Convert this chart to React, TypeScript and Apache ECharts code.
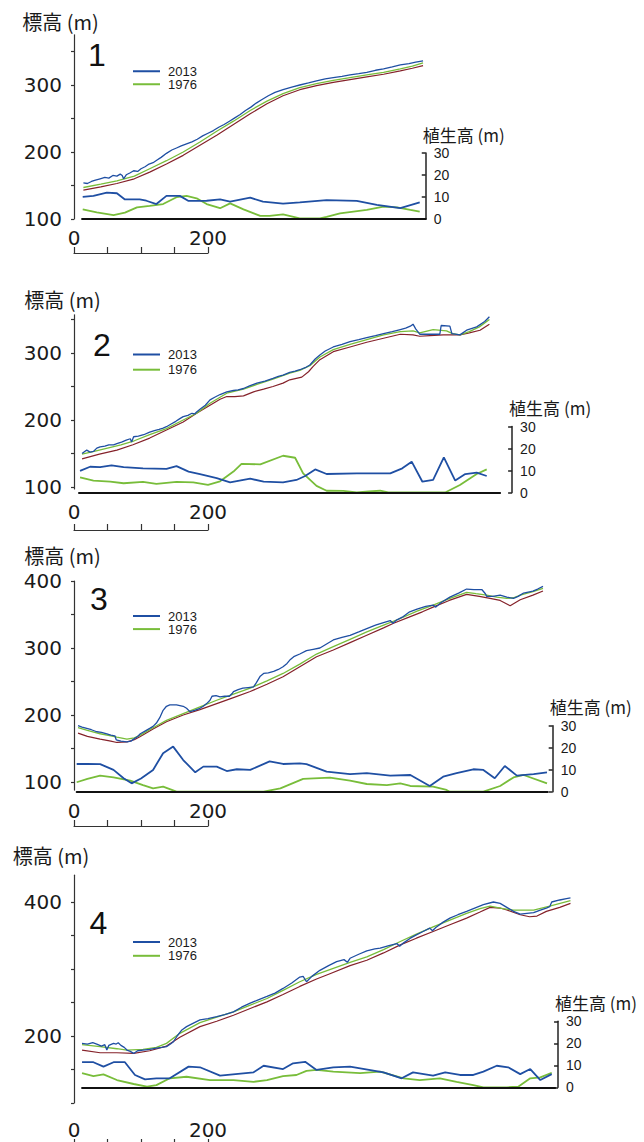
import React, { useEffect, useRef } from 'react';
import * as echarts from 'echarts';

// ---------- texts ----------
const YEAR_NEW = '2013';
const YEAR_OLD = '1976';
const GROUND_NAME = '地表面';
const ELEV_NAME = '標高 (m)';
const VEG_NAME = '植生高 (m)';
const PANEL_LABELS = ['1', '2', '3', '4'];

// ---------- tick labels ----------
const SCALE_TICKS = [0, 50, 100, 150, 200];
const SCALE_LABELS = [0, 200];
const ELEV_TICKS_1 = [100, 150, 200, 250, 300, 350];
const ELEV_LABELS_1 = [100, 200, 300];
const ELEV_TICKS_2 = [100, 150, 200, 250, 300, 350];
const ELEV_LABELS_2 = [100, 200, 300];
const ELEV_TICKS_3 = [100, 150, 200, 250, 300, 350, 400];
const ELEV_LABELS_3 = [100, 200, 300, 400];
const ELEV_TICKS_4 = [100, 150, 200, 250, 300, 350, 400];
const ELEV_LABELS_4 = [200, 400];

// ---------- panel 1 (distance m, value m) ----------
const P1_DSM_2013 = [[14,154],[20,153],[26,156],[32,158],[39,160],[46,162],[52,161],[58,165],[64,164],[69,167],[72,165],[74,160],[78,166],[84,169],[89,172],[95,171],[100,175],[106,178],[112,182],[118,184],[124,188],[130,192],[138,198],[146,203],[153,206],[160,209],[168,212],[176,215],[184,219],[192,224],[200,228],[208,232],[216,237],[224,241],[232,246],[240,251],[248,256],[256,262],[264,267],[272,273],[280,278],[290,284],[300,289],[312,293],[325,297],[337,300],[350,303],[362,306],[375,309],[387,311],[400,313],[412,315],[425,317],[437,319],[450,322],[462,324],[475,327],[487,330],[500,332],[510,334],[521,336]];
const P1_DSM_1976 = [[14,147],[40,152],[64,157],[90,164],[113,175],[138,187],[163,200],[188,215],[213,231],[238,246],[263,262],[288,276],[312,287],[337,296],[362,302],[387,307],[412,311],[437,315],[462,319],[487,324],[505,328],[521,333]];
const P1_GROUND = [[14,143],[40,148],[64,153],[90,160],[113,170],[138,182],[163,195],[188,210],[213,225],[238,241],[263,257],[288,272],[312,284],[337,293],[362,299],[387,304],[412,308],[437,312],[462,316],[487,321],[505,325],[521,329]];
const P1_VEG_2013 = [[13,10.1],[29,10.5],[49,12],[64,11.7],[76,8.9],[98,8.9],[108,8.3],[123,6.8],[138,10.5],[158,10.5],[171,8.2],[198,8.3],[218,8.9],[233,7.9],[263,9.7],[282,7.9],[312,7],[337,7.6],[377,8.6],[422,8.2],[452,6.4],[487,4.9],[516,7.6]];
const P1_VEG_1976 = [[13,4.4],[34,3],[59,1.8],[76,2.9],[94,5.3],[113,6],[133,6.8],[153,9.9],[168,10.5],[183,9.4],[198,6.8],[218,4.9],[233,7.1],[253,4.4],[278,1.4],[292,1.4],[312,2.1],[337,0.3],[367,0.3],[377,1],[397,2.6],[437,4.1],[462,5.6],[482,5.3],[502,4.1],[516,3.3]];

// ---------- panel 2 ----------
const P2_DSM_2013 = [[12,150],[16,153],[19,155],[24,152],[29,153],[34,158],[39,160],[46,161],[52,163],[59,163],[65,165],[71,167],[78,170],[84,172],[86,167],[89,175],[96,176],[104,178],[113,182],[120,184],[127,186],[133,188],[138,190],[145,194],[152,198],[158,202],[163,205],[170,207],[176,210],[180,209],[183,212],[188,216],[196,222],[203,230],[210,234],[218,238],[228,242],[238,244],[245,245],[253,247],[262,251],[273,255],[285,258],[297,262],[305,265],[312,267],[322,271],[330,273],[337,275],[345,278],[352,282],[360,291],[367,297],[375,303],[387,309],[400,313],[412,317],[425,320],[437,323],[450,326],[462,329],[475,332],[487,335],[495,337],[502,340],[506,343],[510,336],[516,328],[530,328],[546,328],[548,341],[561,340],[564,329],[576,327],[586,334],[601,339],[613,347],[620,354]];
const P2_DSM_1976 = [[12,149],[30,153],[50,158],[70,163],[90,169],[113,178],[138,187],[163,200],[183,210],[203,225],[228,240],[253,246],[273,253],[297,261],[322,270],[337,274],[352,281],[367,294],[387,305],[412,313],[437,320],[462,327],[487,332],[506,333],[516,330],[536,335],[556,333],[565,329],[576,327],[590,332],[605,339],[620,350]];
const P2_GROUND = [[12,142],[38,149],[64,155],[88,163],[113,173],[138,185],[163,197],[183,210],[203,222],[218,231],[228,235],[240,235],[253,236],[268,242],[283,246],[297,250],[312,255],[322,260],[340,264],[350,272],[357,280],[367,290],[387,302],[412,309],[437,316],[462,322],[487,328],[506,327],[516,325],[531,326],[551,327],[576,327],[590,330],[606,334],[620,343]];
const P2_VEG_2013 = [[9,9.8],[24,11.7],[39,11.5],[56,12.3],[74,11.5],[103,11],[138,10.7],[153,12],[171,9.5],[188,8.3],[213,6.5],[233,4.6],[263,6.3],[283,4.9],[312,4.6],[332,5.7],[345,7.5],[360,10.5],[377,8.4],[422,8.7],[472,8.7],[490,11],[504,14],[520,4.9],[536,5.7],[552,16],[569,5.4],[584,8.4],[601,9],[616,7.5]];
const P2_VEG_1976 = [[9,6.9],[29,5.4],[54,4.9],[74,4.2],[103,4.8],[123,3.9],[153,4.8],[178,4.6],[200,3.5],[218,5.1],[238,9.5],[250,13],[278,12.8],[312,16.7],[330,15.8],[342,8.7],[362,3],[377,0.8],[402,0.7],[422,0],[440,0.5],[457,0.8],[469,0],[554,0],[576,3.4],[601,8.4],[616,10.5]];

// ---------- panel 3 ----------
const P3_DSM_2013 = [[6,184],[12,182],[19,180],[26,178],[34,175],[41,174],[49,172],[55,170],[61,169],[63,163],[70,161],[79,160],[85,161],[89,164],[95,168],[99,172],[106,176],[113,180],[118,183],[123,188],[128,196],[133,207],[138,213],[143,215],[153,215],[163,213],[168,210],[173,205],[180,207],[188,210],[193,213],[198,217],[203,222],[206,228],[212,229],[218,227],[225,228],[232,228],[236,232],[238,235],[245,238],[252,240],[260,241],[268,242],[272,248],[278,258],[283,262],[290,263],[298,265],[305,268],[312,272],[318,277],[323,283],[328,287],[337,291],[347,296],[357,298],[367,300],[377,306],[387,312],[400,316],[412,319],[425,324],[437,329],[450,334],[462,338],[472,341],[476,337],[482,342],[490,346],[501,354],[512,358],[525,362],[536,364],[540,361],[548,368],[561,376],[574,382],[586,388],[597,387],[609,387],[614,381],[616,377],[625,377],[636,379],[646,376],[656,374],[663,377],[671,382],[685,385],[692,388],[700,392]];
const P3_DSM_1976 = [[6,181],[20,177],[39,172],[55,169],[64,167],[79,164],[90,166],[99,170],[118,181],[138,192],[163,202],[188,212],[213,222],[238,231],[263,240],[288,251],[312,262],[337,276],[362,291],[387,302],[412,313],[437,324],[462,334],[487,344],[512,355],[536,364],[561,374],[586,383],[600,381],[616,379],[631,376],[646,374],[656,375],[666,379],[685,384],[700,389]];
const P3_GROUND = [[6,173],[20,168],[39,164],[55,161],[64,159],[79,160],[90,163],[99,168],[118,179],[138,190],[163,200],[188,208],[213,217],[238,226],[263,235],[288,246],[312,257],[337,272],[362,287],[387,297],[412,308],[437,319],[462,330],[477,337],[500,346],[520,354],[536,361],[560,371],[586,380],[605,377],[621,374],[636,371],[651,363],[666,372],[685,379],[700,385]];
const P3_VEG_2013 = [[4,12.6],[20,12.6],[39,12.5],[59,9.9],[74,6.1],[86,3.8],[100,6],[118,9.9],[133,17.5],[148,20.5],[163,14.4],[181,8.8],[193,11.4],[213,11.4],[228,9.4],[243,10.2],[263,9.9],[292,13.8],[312,12.6],[337,12.9],[347,12.5],[377,9.1],[412,8],[437,8.4],[472,7.3],[502,7.6],[531,2.6],[551,6.8],[571,8.4],[596,10.2],[611,9.9],[628,6.1],[643,11.7],[661,7.3],[686,8],[706,8.8]];
const P3_VEG_1976 = [[4,4.3],[20,5.8],[39,7.3],[59,6.5],[84,5],[103,3],[118,1.5],[133,2.3],[153,0],[283,0],[308,1.5],[342,5.8],[382,6.4],[412,5],[437,3.5],[467,3],[487,3.8],[502,2.6],[536,2.3],[556,0.8],[561,0],[611,0],[636,2.6],[656,6.5],[671,7.6],[706,3.8]];

// ---------- panel 4 ----------
const P4_DSM_2013 = [[12,189],[20,188],[28,190],[34,188],[41,185],[46,187],[49,179],[52,186],[59,189],[63,188],[66,190],[70,186],[75,183],[79,179],[84,177],[89,174],[95,178],[103,179],[113,180],[123,182],[131,183],[138,184],[144,188],[148,191],[154,200],[161,209],[168,214],[176,218],[188,224],[200,226],[213,229],[225,232],[238,236],[250,243],[263,249],[275,254],[288,259],[300,264],[312,271],[325,279],[337,288],[342,289],[347,281],[355,289],[367,298],[380,305],[392,311],[403,314],[408,310],[412,316],[425,322],[437,327],[449,330],[457,331],[470,335],[482,338],[486,334],[492,339],[502,346],[511,351],[521,356],[531,361],[535,357],[540,362],[551,370],[561,376],[573,381],[586,386],[598,391],[611,396],[626,400],[636,398],[646,392],[656,386],[666,382],[676,383],[686,384],[696,388],[705,391],[710,393],[713,400],[725,403],[735,405],[741,406]];
const P4_DSM_1976 = [[12,187],[39,184],[64,181],[79,179],[103,180],[123,183],[138,189],[158,204],[188,220],[213,228],[238,236],[263,246],[288,256],[312,268],[337,281],[362,292],[387,301],[412,310],[437,318],[462,329],[487,341],[511,352],[536,363],[561,373],[586,383],[606,390],[621,394],[640,390],[656,388],[686,388],[710,394],[741,402]];
const P4_GROUND = [[12,179],[39,175],[64,175],[89,174],[113,178],[138,185],[158,198],[188,214],[213,222],[238,231],[263,241],[288,251],[312,262],[337,274],[362,285],[382,293],[412,305],[437,313],[462,324],[487,336],[511,346],[536,356],[561,366],[586,376],[606,385],[621,392],[636,391],[646,388],[666,381],[680,378],[691,379],[705,386],[725,392],[741,398]];
const P4_VEG_2013 = [[12,11.4],[29,11.4],[44,9.4],[59,11.4],[76,11.4],[91,5.6],[106,3.6],[123,4.1],[143,4.1],[171,9.4],[188,9.1],[218,5.3],[268,6.8],[283,9.8],[312,8.3],[327,10.9],[345,11.6],[362,7.9],[387,9.1],[412,9.4],[462,6.8],[489,4.1],[506,6.8],[536,5.3],[554,6.8],[576,5.6],[596,5.6],[611,7.1],[631,9.8],[648,9.1],[666,6],[681,8.3],[696,3.3],[713,6]];
const P4_VEG_1976 = [[12,6.4],[29,5.1],[44,5.9],[64,3.3],[89,1.5],[109,0.3],[123,1],[143,4.1],[168,4.8],[203,3.3],[238,3.3],[268,2.5],[288,3.3],[312,5.1],[332,5.6],[347,7.5],[362,7.9],[387,7.1],[427,6.4],[457,7.1],[492,4.1],[516,3.3],[546,4.1],[571,2.5],[596,1],[611,0],[646,0],[663,0.3],[681,4.1],[696,4.5],[713,6.6]];

const PANEL_DATA = [
  { dsm13: P1_DSM_2013, dsm76: P1_DSM_1976, ground: P1_GROUND, veg13: P1_VEG_2013, veg76: P1_VEG_1976, ticks: ELEV_TICKS_1, labels: ELEV_LABELS_1 },
  { dsm13: P2_DSM_2013, dsm76: P2_DSM_1976, ground: P2_GROUND, veg13: P2_VEG_2013, veg76: P2_VEG_1976, ticks: ELEV_TICKS_2, labels: ELEV_LABELS_2 },
  { dsm13: P3_DSM_2013, dsm76: P3_DSM_1976, ground: P3_GROUND, veg13: P3_VEG_2013, veg76: P3_VEG_1976, ticks: ELEV_TICKS_3, labels: ELEV_LABELS_3 },
  { dsm13: P4_DSM_2013, dsm76: P4_DSM_1976, ground: P4_GROUND, veg13: P4_VEG_2013, veg76: P4_VEG_1976, ticks: ELEV_TICKS_4, labels: ELEV_LABELS_4 },
];

// ---------- layout (pixels) ----------
const K = 0.67; // px per metre (horizontal and elevation)
const KV = 2.2; // px per metre of vegetation height
const X0 = 74;
const X_MAX = 800;
const LAYOUT = [
  { eTop: 34.75, eMin: 100, eMax: 375, vBase: 219, vX: [12, 525], vOff: 0, barY: 253, barMargin: 5, nameGap: 13, namePad: 27, num: [97, 55], legTop: 64.75, legGap: 0 },
  { eTop: 314.8, eMin: 97, eMax: 357, vBase: 492.5, vX: [7.5, 636], vOff: 12, barY: 530, barMargin: 8, nameGap: 15, namePad: 23, num: [102, 344.7], legTop: 348, legGap: 2.2 },
  { eTop: 581, eMin: 88, eMax: 400, vBase: 791.7, vX: [4, 707], vOff: 5, barY: 826, barMargin: 5, nameGap: 25.5, namePad: 23, num: [99, 599], legTop: 609.5, legGap: 0.1 },
  { eTop: 875.2, eMin: 100, eMax: 440, vBase: 1087.3, vX: [12, 718], vOff: 3, barY: 1145, barMargin: 5, nameGap: 20, namePad: 46, num: [98.5, 922.5], legTop: 935.5, legGap: 0.8 },
];

const BLUE = '#1f4fa3';
const GREEN = '#78bd3a';
const RED = '#85222a';
const INK = '#1a1a1a';
const NUM_FONT = 'DejaVu Sans';
const CJK_FONT = '"Noto Sans CJK JP", sans-serif';

function buildOption() {
  const grid: any[] = [];
  const xAxis: any[] = [];
  const yAxis: any[] = [];
  const series: any[] = [];
  const legend: any[] = [];
  const graphic: any[] = [];

  LAYOUT.forEach((L, i) => {
    const D = PANEL_DATA[i];
    const gE = i * 3, gV = i * 3 + 1, gB = i * 3 + 2;

    // elevation grid
    grid.push({ left: X0, top: L.eTop, width: X_MAX * K, height: (L.eMax - L.eMin) * K });
    xAxis.push({ gridIndex: gE, type: 'value', min: 0, max: X_MAX, show: false });
    yAxis.push({
      gridIndex: gE, type: 'value', min: L.eMin, max: L.eMax, offset: 6,
      axisLine: { show: true, lineStyle: { color: '#333', width: 1.2 } },
      axisTick: { show: true, length: 3, customValues: D.ticks, lineStyle: { color: '#333', width: 1.2 } },
      axisLabel: { customValues: D.labels, margin: 6, fontSize: 20, lineHeight: 20, fontFamily: NUM_FONT, color: INK },
      splitLine: { show: false },
      name: ELEV_NAME, nameLocation: 'end', nameGap: L.nameGap,
      nameTextStyle: { fontFamily: CJK_FONT, fontSize: 20, lineHeight: 20, color: INK, align: 'center', verticalAlign: 'middle', padding: [0, L.namePad, 0, 0] },
    });

    // vegetation grid
    grid.push({ left: X0 + L.vX[0] * K, top: L.vBase - 30 * KV, width: (L.vX[1] - L.vX[0]) * K, height: 30 * KV });
    xAxis.push({
      gridIndex: gV, type: 'value', min: L.vX[0], max: L.vX[1], z: 3,
      axisLine: { show: true, onZero: false, lineStyle: { color: '#111', width: 2 } },
      axisTick: { show: false }, axisLabel: { show: false }, splitLine: { show: false },
    });
    yAxis.push({
      gridIndex: gV, type: 'value', position: 'right', min: 0, max: 30, interval: 10, offset: L.vOff,
      axisLine: { show: true, lineStyle: { color: '#222', width: 1.5 } },
      axisTick: { show: true, inside: true, length: 4, lineStyle: { color: '#222', width: 1.5 } },
      axisLabel: { margin: 8, fontSize: 14, lineHeight: 14, fontFamily: 'Liberation Sans', color: INK },
      splitLine: { show: false },
      name: VEG_NAME, nameLocation: 'end', nameGap: 19,
      nameTextStyle: { fontFamily: CJK_FONT, fontSize: 17, lineHeight: 17, color: INK, align: 'center', verticalAlign: 'middle', padding: [0, 0, 0, 76] },
    });

    // scale bar grid
    grid.push({ left: X0, top: L.barY, width: 200 * K, height: 1 });
    xAxis.push({
      gridIndex: gB, type: 'value', position: 'top', min: 0, max: 200,
      axisLine: { show: true, onZero: false, lineStyle: { color: '#333', width: 1.2 } },
      axisTick: { show: true, length: 6, customValues: SCALE_TICKS, lineStyle: { color: '#333', width: 1.2 } },
      axisLabel: { customValues: SCALE_LABELS, margin: L.barMargin, fontSize: 20, fontFamily: NUM_FONT, color: INK },
      splitLine: { show: false },
    });
    yAxis.push({ gridIndex: gB, type: 'value', show: false });

    const line = (name: string, data: number[][], axis: number, color: string, width: number) => ({
      name, type: 'line', xAxisIndex: axis, yAxisIndex: axis, data, color,
      symbol: 'none', showSymbol: false, silent: true, z: 2,
      lineStyle: { color, width },
    });
    series.push(line(GROUND_NAME, D.ground, gE, RED, 1.2));
    series.push(line(YEAR_OLD, D.dsm76, gE, GREEN, 1.3));
    series.push(line(YEAR_NEW, D.dsm13, gE, BLUE, 1.3));
    series.push(line(YEAR_OLD, D.veg76, gV, GREEN, 1.8));
    series.push(line(YEAR_NEW, D.veg13, gV, BLUE, 1.8));

    legend.push({
      data: [YEAR_NEW, YEAR_OLD], orient: 'vertical', left: 133, top: L.legTop, padding: 0,
      itemGap: L.legGap, itemWidth: 27, itemHeight: 2, icon: 'rect', selectedMode: false,
      textStyle: { fontFamily: 'Liberation Sans', fontSize: 13, lineHeight: 12.5, color: INK, padding: [0, 0, 0, 3] },
    });

    graphic.push({
      type: 'text', x: L.num[0], y: L.num[1], silent: true,
      style: { text: PANEL_LABELS[i], font: '32px "Liberation Sans"', fill: '#111', textAlign: 'center', textVerticalAlign: 'middle', align: 'center', verticalAlign: 'middle' },
    });
  });

  return { animation: false, backgroundColor: '#fff', grid, xAxis, yAxis, series, legend, graphic };
}

export default function App() {
  const ref = useRef<HTMLDivElement>(null);
  useEffect(() => {
    if (!ref.current) return;
    const chart = echarts.init(ref.current, undefined, { renderer: 'svg' });
    chart.setOption(buildOption() as any);
    return () => chart.dispose();
  }, []);
  return <div ref={ref} style={{ position: 'absolute', left: 0, top: 0, width: 644, height: 1142 }} />;
}
